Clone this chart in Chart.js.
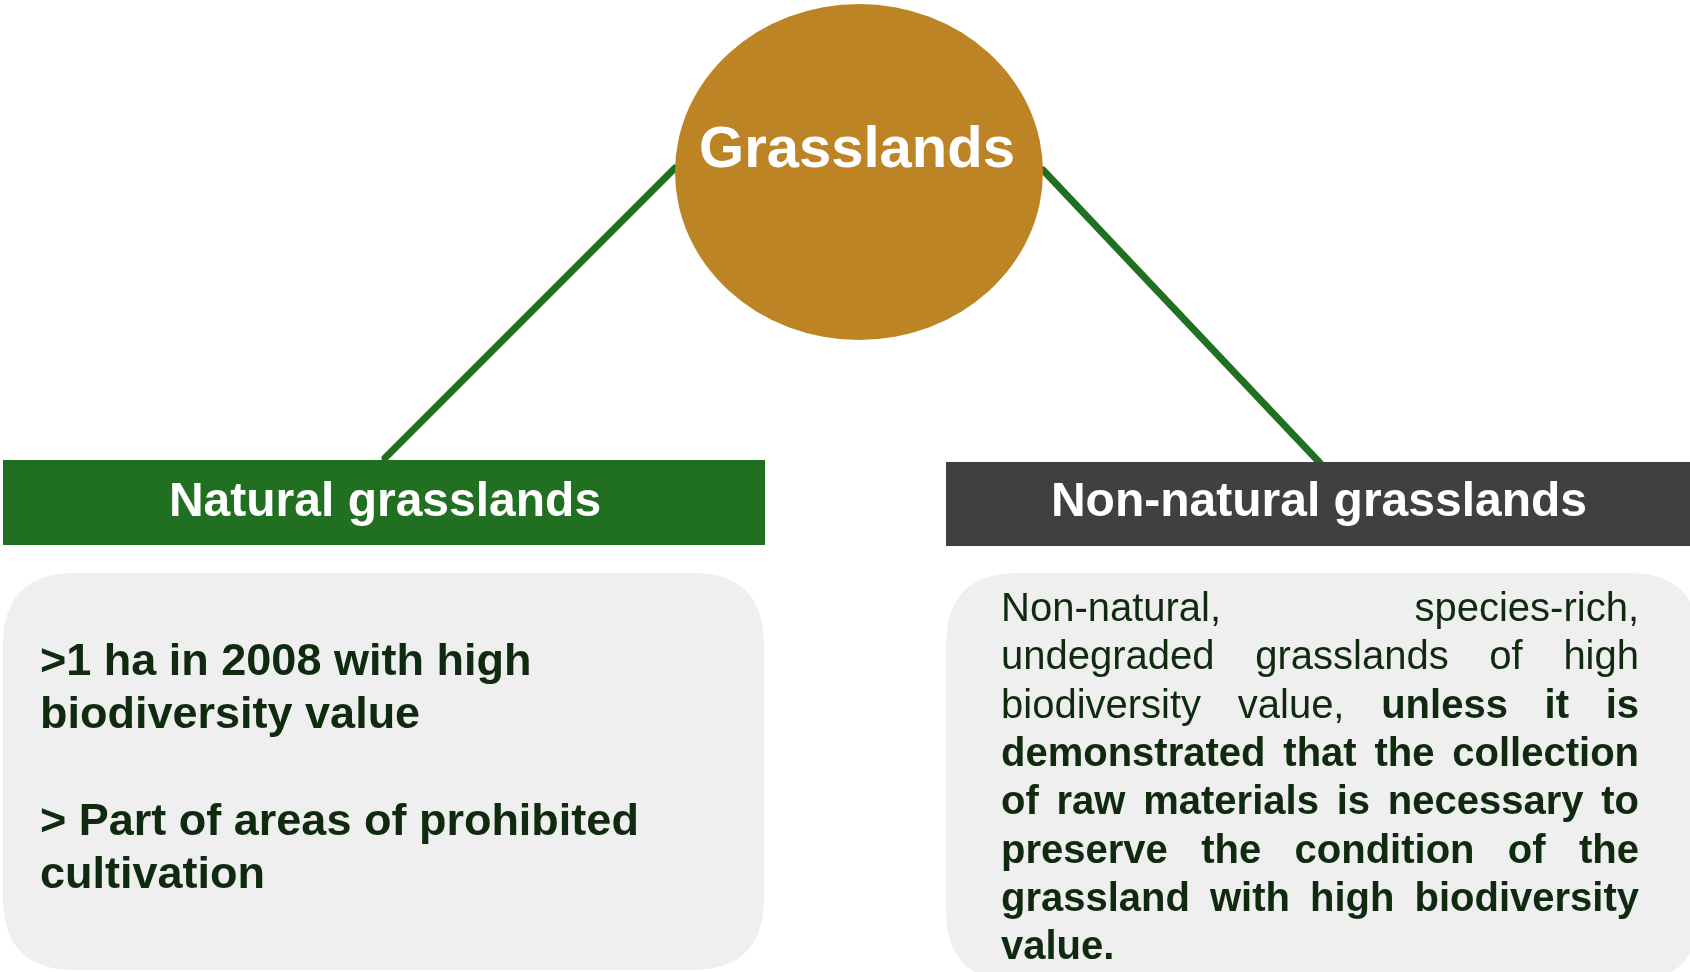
<!DOCTYPE html>
<html>
<head>
<meta charset="utf-8">
<style>
  html, body { margin: 0; padding: 0; background: #ffffff; }
  canvas { display: block; }
</style>
<script src="https://cdn.jsdelivr.net/npm/chart.js@4/dist/chart.umd.min.js"></script>
</head>
<body>
<canvas id="diagram" width="1690" height="972"></canvas>
<script>
// texts of the diagram
const rootLabel = "Grasslands";
const branchLabels = ["Natural grasslands", "Non-natural grasslands"];
const naturalLines = [
  ">1 ha in 2008 with high",
  "biodiversity value",
  "",
  "> Part of areas of prohibited",
  "cultivation"
];
// [regular part, bold part] per justified line
const nonNaturalLines = [
  ["Non-natural, species-rich,", ""],
  ["undegraded grasslands of high", ""],
  ["biodiversity value,", "unless it is"],
  ["", "demonstrated that the collection"],
  ["", "of raw materials is necessary to"],
  ["", "preserve the condition of the"],
  ["", "grassland with high biodiversity"],
  ["", "value."]
];

// layout in page units (the chart scales map them to pixels)
const layout = {
  root: { cx: 859, cy: 172, rx: 184, ry: 168, color: "#bd8425" },
  links: [[675, 168, 385, 458], [1043, 170, 1320, 463]],
  headers: [
    { x0: 3, x1: 765, y0: 460, y1: 545, color: "#217021" },
    { x0: 946, x1: 1692, y0: 462, y1: 546, color: "#404040" }
  ],
  boxes: [
    { x0: 3, x1: 764, y0: 573, y1: 970 },
    { x0: 946, x1: 1700, y0: 573, y1: 982 }
  ]
};

const FONT = '"Liberation Sans", Arial, sans-serif';
const TEXT_DARK = "#0f2a0f";

function roundRect(ctx, x0, y0, x1, y1, r) {
  ctx.beginPath();
  ctx.moveTo(x0 + r, y0);
  ctx.lineTo(x1 - r, y0);
  ctx.quadraticCurveTo(x1, y0, x1, y0 + r);
  ctx.lineTo(x1, y1 - r);
  ctx.quadraticCurveTo(x1, y1, x1 - r, y1);
  ctx.lineTo(x0 + r, y1);
  ctx.quadraticCurveTo(x0, y1, x0, y1 - r);
  ctx.lineTo(x0, y0 + r);
  ctx.quadraticCurveTo(x0, y0, x0 + r, y0);
  ctx.closePath();
}

function drawJustified(ctx, parts, left, width, y, size, justify) {
  const words = [];
  parts[0].split(" ").filter(w => w).forEach(w => words.push({ t: w, b: false }));
  parts[1].split(" ").filter(w => w).forEach(w => words.push({ t: w, b: true }));
  let total = 0;
  words.forEach(w => {
    ctx.font = (w.b ? "bold " : "") + size + "px " + FONT;
    w.w = ctx.measureText(w.t).width;
    total += w.w;
  });
  ctx.font = size + "px " + FONT;
  let gap = ctx.measureText(" ").width;
  if (justify && words.length > 1) gap = (width - total) / (words.length - 1);
  let x = left;
  words.forEach(w => {
    ctx.font = (w.b ? "bold " : "") + size + "px " + FONT;
    ctx.fillText(w.t, x, y);
    x += w.w + gap;
  });
}

const diagramPlugin = {
  id: "diagram",
  afterDraw(chart) {
    const ctx = chart.ctx;
    const sx = v => chart.scales.x.getPixelForValue(v);
    const sy = v => chart.scales.y.getPixelForValue(v);
    ctx.save();

    // connector lines
    ctx.strokeStyle = "#217021";
    ctx.lineWidth = 7;
    ctx.lineCap = "round";
    layout.links.forEach(l => {
      ctx.beginPath();
      ctx.moveTo(sx(l[0]), sy(l[1]));
      ctx.lineTo(sx(l[2]), sy(l[3]));
      ctx.stroke();
    });

    // root ellipse
    const r = layout.root;
    ctx.fillStyle = r.color;
    ctx.beginPath();
    ctx.ellipse(sx(r.cx), sy(r.cy), sx(r.cx + r.rx) - sx(r.cx), sy(r.cy + r.ry) - sy(r.cy), 0, 0, Math.PI * 2);
    ctx.fill();
    ctx.fillStyle = "#ffffff";
    ctx.font = "bold 58px " + FONT;
    ctx.textAlign = "center";
    ctx.textBaseline = "alphabetic";
    ctx.fillText(rootLabel, sx(857), sy(167));

    // header bars
    layout.headers.forEach((h, i) => {
      ctx.fillStyle = h.color;
      ctx.fillRect(sx(h.x0), sy(h.y0), sx(h.x1) - sx(h.x0), sy(h.y1) - sy(h.y0));
      ctx.fillStyle = "#ffffff";
      ctx.font = "bold 48px " + FONT;
      ctx.textAlign = "center";
      ctx.fillText(branchLabels[i], sx((h.x0 + Math.min(h.x1, 1690)) / 2 + 1), sy(516));
    });

    // content boxes
    ctx.fillStyle = "#efefef";
    layout.boxes.forEach(b => {
      roundRect(ctx, sx(b.x0), sy(b.y0), sx(b.x1), sy(b.y1), 72);
      ctx.fill();
    });

    // left box text
    ctx.fillStyle = TEXT_DARK;
    ctx.textAlign = "left";
    ctx.font = "bold 45px " + FONT;
    naturalLines.forEach((line, i) => {
      if (line) ctx.fillText(line, sx(40), sy(675 + i * 53.3));
    });

    // right box text, justified
    nonNaturalLines.forEach((parts, i) => {
      const last = i === nonNaturalLines.length - 1;
      drawJustified(ctx, parts, sx(1001), sx(1639) - sx(1001), sy(621 + i * 48.3), 40, !last);
    });

    ctx.restore();
  }
};

new Chart(document.getElementById("diagram"), {
  type: "scatter",
  data: { datasets: [] },
  options: {
    responsive: false,
    animation: false,
    layout: { padding: 0 },
    scales: {
      x: { type: "linear", min: 0, max: 1690, display: false },
      y: { type: "linear", min: 0, max: 972, reverse: true, display: false }
    },
    plugins: { legend: { display: false }, tooltip: { enabled: false } }
  },
  plugins: [diagramPlugin]
});
</script>
</body>
</html>
